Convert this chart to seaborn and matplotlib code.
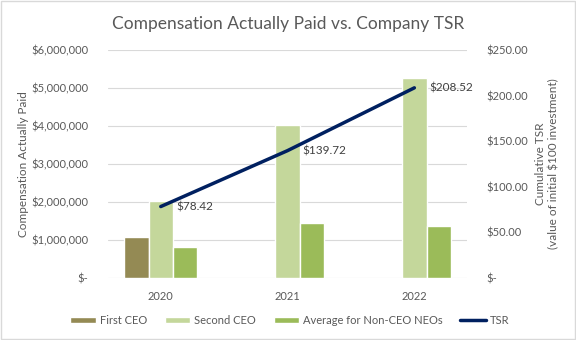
import matplotlib
matplotlib.use("Agg")
import matplotlib.pyplot as plt
import matplotlib.ticker as mticker
from matplotlib.patches import Rectangle
import numpy as np
import pandas as pd
import seaborn as sns

# Chart data
years = ["2020", "2021", "2022"]
first_ceo = [1090000, np.nan, np.nan]
second_ceo = [2020000, 4030000, 5260000]
avg_non_ceo = [817000, 1440000, 1370000]
tsr = [78.42, 139.72, 208.52]
series_names = ["First CEO", "Second CEO", "Average for Non-CEO NEOs"]
bar_colors = ["#948A54", "#C4D79B", "#9BBB59"]
line_color = "#002060"
text_color = "#595959"
grid_color = "#D9D9D9"

df = pd.DataFrame({
    "Year": years * 3,
    "Series": [s for s in series_names for _ in years],
    "Value": first_ceo + second_ceo + avg_non_ceo,
})

sns.set_theme(style="white")
plt.rcParams["font.family"] = ["Lato", "DejaVu Sans"]

fig = plt.figure(figsize=(5.76, 3.40), dpi=100)
ax = fig.add_axes([0.1875, 0.182, 0.6235, 0.671])

sns.barplot(data=df, x="Year", y="Value", hue="Series", hue_order=series_names,
            palette=bar_colors, width=0.575, gap=0, saturation=1, ax=ax,
            legend=True, errorbar=None)

ax.set_ylim(0, 6000000)
ax.yaxis.set_major_locator(mticker.MultipleLocator(1000000))
ax.yaxis.set_major_formatter(mticker.FuncFormatter(
    lambda v, p: "$-" if v == 0 else f"${v:,.0f}"))
ax.grid(axis="y", color=grid_color, linewidth=0.8)
ax.set_axisbelow(True)
for s in ax.spines.values():
    s.set_visible(False)
ax.tick_params(axis="both", length=0, colors=text_color, labelsize=8)
ax.tick_params(axis="x", pad=9)
ax.tick_params(axis="y", pad=14)
ax.set_xlabel("")
ax.set_ylabel("Compensation Actually Paid", color=text_color, fontsize=8.5, labelpad=2)

ax2 = ax.twinx()
sns.lineplot(x=years, y=tsr, color=line_color, linewidth=2.5, ax=ax2, label="TSR",
             legend=False)
ax2.set_ylim(0, 250)
ax2.yaxis.set_major_locator(mticker.MultipleLocator(50))
ax2.yaxis.set_major_formatter(mticker.FuncFormatter(
    lambda v, p: "$-" if v == 0 else f"${v:,.2f}"))
for s in ax2.spines.values():
    s.set_visible(False)
ax2.tick_params(axis="y", length=0, colors=text_color, labelsize=8, pad=14)
ax2.set_ylabel("Cumulative TSR\n(value of initial $100 investment)",
               color=text_color, fontsize=8.5, labelpad=5)
ax2.grid(False)

for i, v in enumerate(tsr):
    ax2.annotate(f"${v:,.2f}", xy=(i, v), xytext=(11, 0), textcoords="offset points",
                 ha="left", va="center", fontsize=8.5, color="#404040")

# Combined legend along the bottom
h1, l1 = ax.get_legend_handles_labels()
h2, l2 = ax2.get_legend_handles_labels()
ax.get_legend().remove()
fig.legend(h1 + h2, l1 + l2, loc="center", bbox_to_anchor=(0.503, 0.058), ncol=4,
           frameon=False, fontsize=8, labelcolor=text_color, handlelength=2.3,
           handleheight=0.55, handletextpad=0.35, columnspacing=1.6)

fig.suptitle("Compensation Actually Paid vs. Company TSR", y=0.952, fontsize=12.5,
             color=text_color)

fig.patches.append(Rectangle((0.002, 0.003), 0.996, 0.994, transform=fig.transFigure,
                             fill=False, edgecolor=grid_color, linewidth=1))

fig.savefig("out.png", dpi=100)
